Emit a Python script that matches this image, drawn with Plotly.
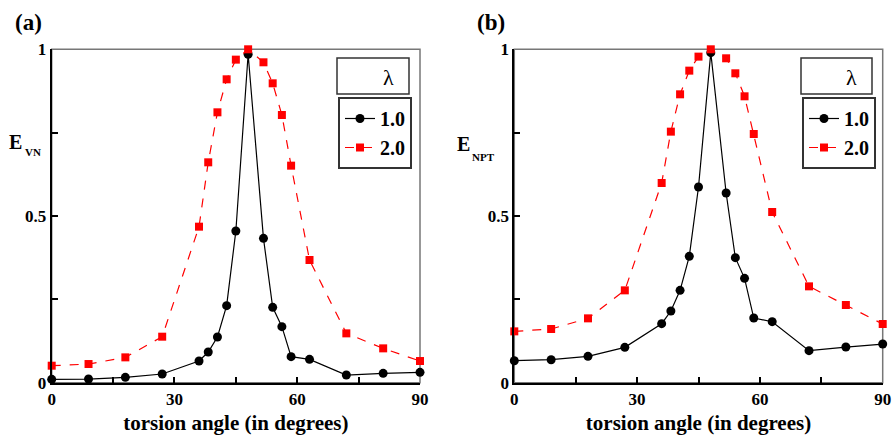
import plotly.graph_objects as go

W, H = 894, 435

angles = [0, 9, 18, 27, 36, 38.25, 40.5, 42.75, 45, 48, 51.75, 54, 56.25, 58.5, 63, 72, 81, 90]

evn_l1 = [0.010, 0.011, 0.016, 0.026, 0.065, 0.092, 0.137, 0.231, 0.455, 0.985, 0.433, 0.226, 0.168, 0.078, 0.070, 0.023, 0.028, 0.031]
evn_l2 = [0.051, 0.056, 0.076, 0.138, 0.468, 0.661, 0.811, 0.910, 0.969, 1.000, 0.961, 0.898, 0.803, 0.651, 0.368, 0.148, 0.103, 0.065]

enpt_l1 = [0.066, 0.069, 0.079, 0.106, 0.177, 0.215, 0.277, 0.379, 0.587, 0.990, 0.569, 0.375, 0.313, 0.194, 0.183, 0.096, 0.107, 0.116]
enpt_l2 = [0.154, 0.161, 0.193, 0.277, 0.599, 0.753, 0.865, 0.936, 0.978, 1.000, 0.973, 0.928, 0.859, 0.746, 0.512, 0.289, 0.233, 0.176]

series_names = ["1.0", "2.0"]
panel_labels = ["(a)", "(b)"]
ylabel_main = "E"
ylabel_subs = ["VN", "NPT"]
xlabel = "torsion angle (in degrees)"
x_ticks = [0, 30, 60, 90]
y_ticks = [0, 0.5, 1]

FONT = "'Liberation Serif', 'Times New Roman', Times, serif"


def px(x):
    return x / W


def py(y):
    return 1 - y / H


fig = go.Figure()

panels = [
    dict(xa="x", ya="y", left=51.7, right=420.0, data=(evn_l1, evn_l2), legend="legend"),
    dict(xa="x2", ya="y2", left=514.3, right=882.7, data=(enpt_l1, enpt_l2), legend="legend2"),
]
top, bottom = 49.3, 382.7

for i, p in enumerate(panels):
    d1, d2 = p["data"]
    fig.add_trace(go.Scatter(
        x=angles, y=d1, mode="lines+markers", name=series_names[0],
        line=dict(color="black", width=1.2),
        marker=dict(symbol="circle", size=9, color="black"),
        xaxis=p["xa"], yaxis=p["ya"], legend=p["legend"], cliponaxis=False,
    ))
    fig.add_trace(go.Scatter(
        x=angles, y=d2, mode="lines+markers", name=series_names[1],
        line=dict(color="#ff0000", width=1.2, dash="dash"),
        marker=dict(symbol="square", size=8, color="#ff0000"),
        xaxis=p["xa"], yaxis=p["ya"], legend=p["legend"], cliponaxis=False,
    ))

axis_common = dict(
    showgrid=False, zeroline=False, showline=True, linecolor="black", linewidth=2,
    ticks="inside", ticklen=6, tickwidth=1.5, tickcolor="black", automargin=False,
    tickfont=dict(family=FONT, size=17, color="black", weight="bold"),
)

layout_axes = {}
for i, p in enumerate(panels):
    suffix = "" if i == 0 else "2"
    layout_axes["xaxis" + suffix] = dict(
        axis_common, domain=[px(p["left"]), px(p["right"])], range=[0, 90],
        tickvals=x_ticks, anchor="y" + suffix,
        minor=dict(dtick=15, tick0=0, ticks="inside", ticklen=6, tickwidth=1.5, tickcolor="black"),
        title=dict(text=xlabel, font=dict(family=FONT, size=21, color="black", weight="bold"), standoff=16),
    )
    layout_axes["yaxis" + suffix] = dict(
        axis_common, domain=[py(bottom), py(top)], range=[0, 1],
        tickvals=y_ticks, anchor="x" + suffix,
        minor=dict(dtick=0.25, tick0=0, ticks="inside", ticklen=6, tickwidth=1.5, tickcolor="black"),
    )

shapes = []
annotations = []
legend_boxes = [(337, 409), (801, 872)]
label_pos = [(28, 23), (491, 23)]
e_pos = [(15, 142), (464, 144)]
sub_pos = [(33, 152), (484, 157)]


def ann(text, x, y, size, bold=True):
    return dict(text=text, xref="paper", yref="paper", x=px(x), y=py(y),
                xanchor="center", yanchor="middle", showarrow=False,
                font=dict(family=FONT, size=size, color="black",
                          weight="bold" if bold else "normal"))


for i, p in enumerate(panels):
    # frame (top/right gray)
    shapes.append(dict(type="rect", xref="paper", yref="paper",
                       x0=px(p["left"]), x1=px(p["right"]), y0=py(bottom), y1=py(top),
                       line=dict(color="#777777", width=1.5), layer="below"))
    # lambda header box
    bx0, bx1 = legend_boxes[i]
    shapes.append(dict(type="rect", xref="paper", yref="paper",
                       x0=px(bx0), x1=px(bx1), y0=py(94), y1=py(58),
                       line=dict(color="#333333", width=1.5), fillcolor="white", layer="above"))
    annotations.append(ann("λ", bx1 - 21, 77, 22, bold=False))
    annotations.append(ann(panel_labels[i], label_pos[i][0], label_pos[i][1], 23))
    annotations.append(ann(ylabel_main, e_pos[i][0], e_pos[i][1], 20))
    annotations.append(ann(ylabel_subs[i], sub_pos[i][0], sub_pos[i][1], 11))

legend_common = dict(
    xanchor="left", yanchor="top", bgcolor="white", bordercolor="#333333", borderwidth=2,
    font=dict(family=FONT, size=20, color="black", weight="bold"),
    itemwidth=30, tracegroupgap=0,
)

fig.update_layout(
    width=W, height=H, margin=dict(l=0, r=0, t=0, b=0, autoexpand=False),
    paper_bgcolor="white", plot_bgcolor="white",
    shapes=shapes, annotations=annotations,
    legend=dict(legend_common, x=px(338), y=py(97)),
    legend2=dict(legend_common, x=px(802), y=py(97)),
    **layout_axes,
)

fig.write_html("out.html")
